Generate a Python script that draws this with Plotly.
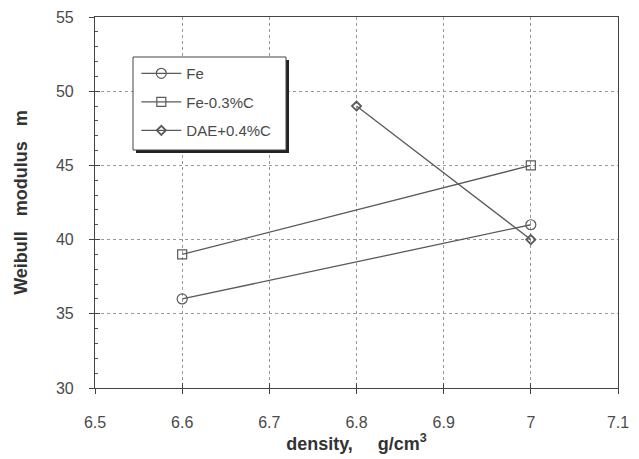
import plotly.graph_objects as go

density = [6.6, 7.0]
density_dae = [6.8, 7.0]
fe = [36, 41]
fe_03c = [39, 45]
dae_04c = [49, 40]
series_names = ["Fe", "Fe-0.3%C", "DAE+0.4%C"]
x_ticks = [6.5, 6.6, 6.7, 6.8, 6.9, 7.0, 7.1]
x_tick_labels = ["6.5", "6.6", "6.7", "6.8", "6.9", "7", "7.1"]
y_ticks = [30, 35, 40, 45, 50, 55]

LINE = "#5a5a5a"
TXT = "#4a4a4a"
FONT = "Liberation Sans, Arial, sans-serif"

fig = go.Figure()
fig.add_trace(go.Scatter(x=density, y=fe, name=series_names[0], mode="lines+markers",
                         line=dict(color=LINE, width=1.3), legendgroup="a",
                         marker=dict(symbol="circle-open", size=10, color=LINE, line=dict(width=1.2))))
fig.add_trace(go.Scatter(x=density, y=fe_03c, name=series_names[1], mode="lines+markers",
                         line=dict(color=LINE, width=1.3), legendgroup="b",
                         marker=dict(symbol="square-open", size=9, color=LINE, line=dict(width=1.2))))
fig.add_trace(go.Scatter(x=density_dae, y=dae_04c, name=series_names[2], mode="lines+markers",
                         line=dict(color=LINE, width=1.3), legendgroup="c",
                         marker=dict(symbol="diamond-open", size=7, color=LINE, line=dict(width=1.8))))

# overlay axes to draw the inward half of the crossing ticks
fig.add_trace(go.Scatter(x=[6.5], y=[30], xaxis="x2", yaxis="y2", mode="markers",
                         marker=dict(opacity=0), showlegend=False, hoverinfo="skip"))

# page body has an 8px default margin; figure is sized/offset to compensate
fig.update_layout(
    width=631, height=451,
    margin=dict(l=87, r=21, t=9, b=71),
    paper_bgcolor="white", plot_bgcolor="white",
    font=dict(family=FONT, color=TXT),
    showlegend=True,
    legend=dict(x=0.079, y=0.892, xanchor="left", yanchor="top",
                bgcolor="rgba(0,0,0,0)", borderwidth=0,
                font=dict(size=15, color=TXT), tracegroupgap=6,
                itemwidth=40),
    xaxis=dict(range=[6.5, 7.1], tickvals=x_ticks, ticktext=x_tick_labels,
               showgrid=True, gridcolor="#999", griddash="dot", gridwidth=1,
               showline=True, linecolor="#444", linewidth=1.2, mirror=True,
               ticks="outside", ticklen=5, tickcolor="#444", automargin=False,
               ticklabelstandoff=15, tickfont=dict(size=16, color=TXT),
               zeroline=False,
               title=dict(text="<b>density,     g/cm<sup>3</sup></b>", standoff=6,
                          font=dict(size=18, color="#333"))),
    yaxis=dict(range=[30, 55], tickvals=y_ticks,
               showgrid=True, gridcolor="#999", griddash="dot", gridwidth=1,
               showline=True, linecolor="#444", linewidth=1.2, mirror=True,
               ticks="outside", ticklen=5, tickcolor="#444", automargin=False,
               ticklabelstandoff=12, tickfont=dict(size=16, color=TXT),
               zeroline=False,
               title=dict(text="<b>Weibull   modulus   m</b>", standoff=23,
                          font=dict(size=18, color="#333"))),
    xaxis2=dict(overlaying="x", matches="x", anchor="y2", range=[6.5, 7.1],
                tickvals=x_ticks, showticklabels=False, showgrid=False, showline=False,
                ticks="inside", ticklen=5, tickcolor="#444", zeroline=False),
    yaxis2=dict(overlaying="y", matches="y", anchor="x2", range=[30, 55],
                tickvals=y_ticks, showticklabels=False, showgrid=False, showline=False,
                ticks="inside", ticklen=5, tickcolor="#444", zeroline=False,
                minor=dict(dtick=1, ticks="inside", ticklen=3, tickcolor="#555", showgrid=False)),
)

def px_x(p):
    return (p - 95) / 523.0

def px_y(p):
    return (388 - p) / 371.0

# legend box with drop shadow
fig.add_shape(type="rect", xref="paper", yref="paper",
              x0=px_x(136), x1=px_x(289), y0=px_y(153), y1=px_y(60),
              fillcolor="#222", line=dict(width=0), layer="above")
fig.add_shape(type="rect", xref="paper", yref="paper",
              x0=px_x(133), x1=px_x(286), y0=px_y(150), y1=px_y(57),
              fillcolor="white", line=dict(color="#444", width=1), layer="above")

fig.write_html("out.html")
